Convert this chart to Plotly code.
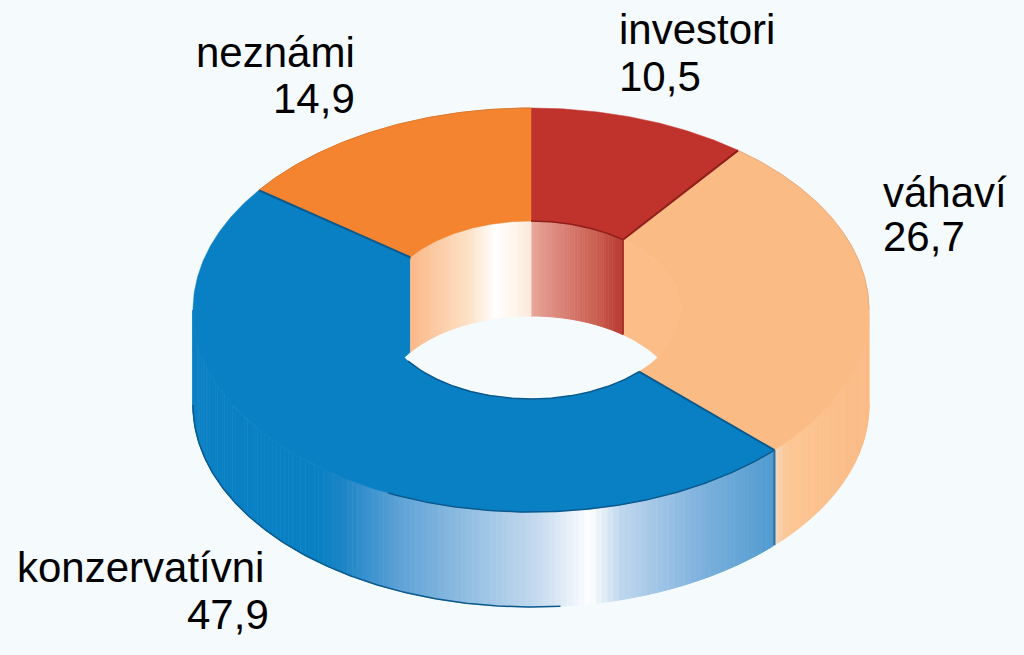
import numpy as np
import plotly.graph_objects as go

# poradie v smere hodinovych ruciciek od vrchu
labels = ['investori', 'váhaví', 'konzervatívni', 'neznámi']
values = [10.5, 26.7, 47.9, 14.9]

top_colors = ['#c0332c', '#fbbb85', '#0a80c4', '#f58430']
edge_colors = ['#8f1f1c', '#e8ad7e', '#0b5a8e', '#d9792f']
bg = '#f5fafd'

cx, cy = 531, 310
a_out, b_out = 338, 202
a_in, b_in = 150, 89
depth = 95

# farby sten podla x
inner_stops = {
    'investori': ([531, 560, 600, 622], ['#e9a79a', '#db8478', '#c95a4c', '#b83a30']),
    'neznámi': ([381, 412, 470, 495, 515, 531], ['#fbb988', '#fbb988', '#fde3c8', '#ffffff', '#fff6ec', '#fbe9d9']),
}
outer_stops = {
    'konzervatívni': ([193, 320, 345, 400, 540, 590, 620, 700, 775],
                      ['#0a80c4', '#0a80c4', '#1f86c8', '#5fa3d6', '#c8dcf0', '#ffffff', '#c0d8ee', '#7fb2dd', '#4f9bd0']),
    'váhaví': ([775, 785, 830, 870], ['#f3d9c0', '#fcc896', '#fcc08c', '#fbbb85']),
}
inner_flat = {'váhaví': '#fcbd88', 'konzervatívni': '#0a80c4'}

# text: x, zarovnanie, spodok riadku s nazvom, spodok riadku s hodnotou
label_pos = {
    'investori': (617, 'left', 55, 102),
    'váhaví': (881, 'left', 218, 262),
    'konzervatívni': (15, 'left', 593, 640),
    'neznámi': (357, 'right', 78, 124),
}
value_x = {'investori': 617, 'váhaví': 881, 'konzervatívni': 271, 'neznámi': 357}
value_align = {'investori': 'left', 'váhaví': 'left', 'konzervatívni': 'right', 'neznámi': 'right'}

angles = np.concatenate([[0], np.cumsum(values)]) * 3.6


def arc(a, b, t0, t1, dy=0):
    t = np.radians(np.linspace(t0, t1, max(int(abs(t1 - t0)) * 2, 2)))
    return cx + a * np.sin(t), cy - b * np.cos(t) + dy


def hex_rgb(c):
    return [int(c[i:i + 2], 16) for i in (1, 3, 5)]


def grad(x, stops):
    xs, cols = stops
    rgb = np.array([hex_rgb(c) for c in cols])
    r = [np.interp(x, xs, rgb[:, i]) for i in range(3)]
    return 'rgb(%d,%d,%d)' % (r[0], r[1], r[2])


fig = go.Figure()


def poly(x, y, color, line=None, width=1):
    fig.add_trace(go.Scatter(x=list(x), y=list(y), mode='lines', fill='toself', fillcolor=color,
                             line=dict(color=line or color, width=width),
                             hoverinfo='skip', showlegend=False))


def stroke(x, y, color, width=1.5):
    fig.add_trace(go.Scatter(x=list(x), y=list(y), mode='lines', line=dict(color=color, width=width),
                             hoverinfo='skip', showlegend=False))


def wall(a, b, t0, t1, stops=None, flat=None):
    if flat:
        x0, y0 = arc(a, b, t0, t1)
        x1, y1 = arc(a, b, t1, t0, depth)
        poly(np.r_[x0, x1], np.r_[y0, y1], flat, width=0.5)
        return
    # pas po pase, aby bol vidno prechod
    ts = np.arange(t0, t1, 1.0).tolist() + [t1]
    for s0, s1 in zip(ts[:-1], ts[1:]):
        x0, y0 = arc(a, b, s0, s1)
        x1, y1 = arc(a, b, s1, s0, depth)
        poly(np.r_[x0, x1], np.r_[y0, y1], grad(x0.mean(), stops), width=1)


# vnutorne steny (zadna polovica)
for i, name in enumerate(labels):
    t0, t1 = angles[i], angles[i + 1]
    for lo, hi in ((0, 90), (270, 360)):
        s0, s1 = max(t0, lo), min(t1, hi)
        if s1 > s0:
            wall(a_in, b_in, s0, s1, inner_stops.get(name), inner_flat.get(name))

# vonkajsie steny (predna polovica)
for i, name in enumerate(labels):
    s0, s1 = max(angles[i], 90), min(angles[i + 1], 270)
    if s1 > s0:
        wall(a_out, b_out, s0, s1, outer_stops.get(name))

# horne plochy
for i, name in enumerate(labels):
    t0, t1 = angles[i], angles[i + 1]
    xo, yo = arc(a_out, b_out, t0, t1)
    xi, yi = arc(a_in, b_in, t1, t0)
    poly(np.r_[xo, xi, xo[0]], np.r_[yo, yi, yo[0]], top_colors[i], width=0.5)

# tmave hrany
for i, name in enumerate(labels):
    t0, t1 = angles[i], angles[i + 1]
    xi, yi = arc(a_in, b_in, t0, t1)
    xo, yo = arc(a_out, b_out, t0, t1)
    if name == 'konzervatívni':
        stroke(*arc(a_in, b_in, 250, t1), top_colors[i], 2.5)
        stroke(*arc(a_in, b_in, t0, 235), edge_colors[i])
        stroke(*arc(a_out, b_out, t0, 205), edge_colors[i])
        stroke(*arc(a_out, b_out, 175, 270, depth), '#0b5a8e', 1.5)
        stroke([xi[0], xo[0]], [yi[0], yo[0]], edge_colors[i], 2)
        stroke([xi[-1], xo[-1]], [yi[-1], yo[-1]], edge_colors[i], 2)
        stroke([xo[0], xo[0]], [yo[0], yo[0] + depth], '#2f6d9a', 2)
    elif name == 'investori':
        stroke(xi, yi, edge_colors[i])
        stroke([xi[-1], xo[-1]], [yi[-1], yo[-1]], edge_colors[i], 2)
        stroke([xi[-1], xi[-1]], [yi[-1], yi[-1] + depth], '#a82f28', 2)
    elif name == 'váhaví':
        stroke(*arc(a_out, b_out, t0, 90), edge_colors[i], 1)
    else:
        stroke(xo, yo, edge_colors[i], 1)

for name, v in zip(labels, values):
    x, align, y_name, y_val = label_pos[name]
    fig.add_annotation(x=x, y=y_name, text=name, xanchor=align, yanchor='bottom', showarrow=False,
                       font=dict(family='Liberation Sans', size=42, color='#000000'))
    fig.add_annotation(x=value_x[name], y=y_val, text=str(v).replace('.', ','), xanchor=value_align[name],
                       yanchor='bottom', showarrow=False,
                       font=dict(family='Liberation Sans', size=42, color='#000000'))

fig.update_layout(
    width=1024, height=655,
    margin=dict(l=0, r=0, t=0, b=0),
    paper_bgcolor=bg, plot_bgcolor=bg,
    xaxis=dict(range=[0, 1024], visible=False),
    yaxis=dict(range=[655, 0], visible=False),
)

fig.write_html("out.html", config={'displayModeBar': False},
               post_script="document.body.style.margin='0';document.body.style.overflow='hidden';")
